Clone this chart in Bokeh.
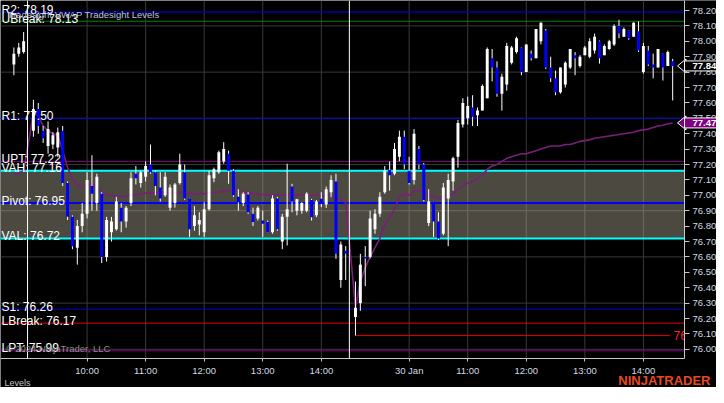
from bokeh.plotting import figure
from bokeh.models import Range1d, FixedTicker, NumeralTickFormatter, Label, ColumnDataSource
from bokeh.embed import file_html
from bokeh.resources import INLINE
from bokeh.core.properties import value

# ---------------- data (5-minute bars, equidistant index) ----------------
bar_idx = [-3, -2, -1] + list(range(1, 66)) + list(range(67, 133))

bar_open = [
    77.85, 77.92, 77.93,
    77.42, 77.56, 77.42, 77.32, 77.33, 77.31, 77.42, 77.08, 76.86, 76.66,
    76.80, 76.88, 77.06, 76.95, 77.01, 76.60, 76.76, 76.78, 76.92, 76.83,
    76.95, 77.14, 77.08, 77.12, 77.20, 77.15, 77.05, 77.00, 76.92, 76.95,
    77.08, 77.15, 76.98, 76.80, 76.81, 76.76, 76.91, 77.11, 77.15, 77.22,
    77.27, 77.16, 76.99, 76.95, 77.005, 76.88, 76.85, 76.836, 76.826, 76.76,
    76.98, 76.70, 76.86, 77.057, 76.90, 76.90, 76.90, 76.97, 76.87, 76.977,
    76.94, 77.02, 77.09, 76.45, 76.64,
    76.21, 76.30, 76.60, 76.60, 76.78, 76.88, 77.02, 77.165, 77.14, 77.25,
    77.38, 77.16, 77.10, 77.30, 77.20, 76.82, 76.96, 76.83, 76.75, 76.98,
    77.09, 77.25, 77.46, 77.50, 77.57, 77.52, 77.55, 77.63, 77.89, 77.83,
    77.66, 77.72, 77.86, 77.93, 77.96, 77.80, 77.92, 77.89, 78.00, 78.07,
    77.83, 77.76, 77.67, 77.72, 77.83, 77.91, 77.84, 77.91, 77.90, 77.94,
    78.00, 77.91, 77.95, 77.98, 78.10, 78.03, 78.07, 78.03, 78.066, 77.80,
    77.94, 77.85, 77.83, 77.92, 77.84, 77.87,
]
bar_high = [
    77.96, 77.99, 78.06,
    77.62, 77.60, 77.45, 77.48, 77.41, 77.44, 77.45, 77.09, 76.87, 76.84,
    76.95, 77.15, 77.26, 77.14, 77.02, 76.86, 76.86, 76.99, 76.95, 76.93,
    77.15, 77.19, 77.16, 77.22, 77.33, 77.16, 77.15, 77.15, 77.07, 77.08,
    77.27, 77.20, 76.98, 76.93, 76.89, 76.955, 77.16, 77.18, 77.29, 77.345,
    77.29, 77.17, 77.04, 77.02, 77.02, 76.92, 76.93, 76.90, 76.836, 77.00,
    76.99, 76.88, 77.205, 77.075, 76.977, 76.955, 77.02, 76.977, 76.97, 77.02,
    77.057, 77.13, 77.14, 76.70, 76.67,
    76.44, 76.62, 76.67, 76.90, 76.91, 77.02, 77.19, 77.22, 77.34, 77.42,
    77.42, 77.25, 77.43, 77.32, 77.21, 77.04, 76.96, 76.89, 77.08, 77.14,
    77.25, 77.49, 77.63, 77.64, 77.65, 77.57, 77.72, 77.96, 77.95, 77.87,
    77.79, 77.99, 77.97, 78.03, 77.96, 77.98, 77.94, 78.08, 78.124, 78.08,
    77.90, 77.81, 77.83, 77.87, 77.95, 77.93, 77.91, 77.97, 78.02, 78.05,
    78.005, 77.98, 78.01, 78.11, 78.14, 78.09, 78.07, 78.124, 78.13, 77.99,
    77.97, 77.92, 77.95, 77.92, 77.94, 77.886,
]
bar_low = [
    77.78, 77.90, 77.92,
    77.38, 77.40, 77.34, 77.27, 77.30, 77.25, 77.06, 76.84, 76.65, 76.55,
    76.76, 76.85, 76.90, 76.90, 76.56, 76.57, 76.70, 76.77, 76.76, 76.79,
    76.93, 77.07, 77.05, 77.09, 77.14, 77.00, 76.96, 76.99, 76.90, 76.92,
    77.07, 76.97, 76.73, 76.77, 76.74, 76.73, 76.90, 77.085, 77.14, 77.205,
    77.075, 76.99, 76.90, 76.93, 76.88, 76.80, 76.836, 76.73, 76.76, 76.75,
    76.77, 76.65, 76.674, 76.89, 76.87, 76.88, 76.89, 76.836, 76.858, 76.923,
    76.918, 76.988, 76.588, 76.40, 76.45,
    76.09, 76.25, 76.41, 76.59, 76.75, 76.86, 77.01, 77.03, 77.13, 77.22,
    77.17, 77.07, 77.07, 77.17, 76.96, 76.80, 76.73, 76.71, 76.74, 76.67,
    77.03, 77.18, 77.44, 77.46, 77.45, 77.45, 77.55, 77.63, 77.74, 77.64,
    77.55, 77.68, 77.85, 77.92, 77.78, 77.80, 77.875, 77.89, 77.98, 77.82,
    77.735, 77.65, 77.66, 77.70, 77.82, 77.78, 77.83, 77.91, 77.89, 77.92,
    77.855, 77.91, 77.945, 77.97, 78.02, 78.03, 78.01, 78.03, 77.93, 77.79,
    77.84, 77.76, 77.83, 77.745, 77.84, 77.616,
]
bar_close = [
    77.92, 77.96, 78.00,
    77.56, 77.45, 77.37, 77.43, 77.39, 77.41, 77.08, 76.86, 76.67, 76.80,
    76.88, 77.10, 77.01, 77.12, 76.60, 76.84, 76.83, 76.96, 76.83, 76.92,
    77.11, 77.11, 77.15, 77.19, 77.15, 77.06, 76.98, 77.12, 77.05, 77.07,
    77.20, 76.98, 76.78, 76.87, 76.84, 76.91, 77.13, 77.17, 77.28, 77.30,
    77.16, 77.00, 76.955, 77.01, 76.89, 76.826, 76.92, 76.815, 76.76, 76.98,
    76.78, 76.86, 76.91, 76.96, 76.975, 76.95, 77.01, 76.858, 76.96, 76.944,
    77.04, 77.10, 76.62, 76.68, 76.62,
    76.27, 76.55, 76.59, 76.85, 76.88, 76.99, 77.16, 77.13, 77.30, 77.38,
    77.20, 77.08, 77.40, 77.20, 76.97, 76.96, 76.83, 76.72, 77.05, 77.10,
    77.24, 77.47, 77.60, 77.58, 77.51, 77.55, 77.71, 77.95, 77.83, 77.66,
    77.77, 77.97, 77.96, 78.02, 77.80, 77.98, 77.89, 78.08, 78.12, 77.83,
    77.76, 77.67, 77.83, 77.86, 77.95, 77.89, 77.90, 77.96, 78.00, 78.03,
    77.89, 77.97, 78.00, 78.10, 78.05, 78.08, 78.02, 78.12, 77.94, 77.97,
    77.85, 77.83, 77.95, 77.83, 77.93, 77.84,
]
vwap = [
    77.13, 77.145, 77.16,
    77.53, 77.52, 77.45, 77.42, 77.40, 77.39, 77.29, 77.18, 77.11, 77.06,
    77.06, 77.07, 77.075, 77.06, 77.02, 77.005, 77.00, 76.995, 76.99, 76.995,
    77.00, 77.003, 77.01, 77.014, 77.016, 77.016, 77.014, 77.016, 77.016, 77.018,
    77.02, 77.02, 77.014, 77.01, 77.01, 77.01, 77.014, 77.018, 77.022, 77.027,
    77.031, 77.031, 77.025, 77.02, 77.016, 77.012, 77.007, 77.005, 77.003, 77.003,
    77.002, 77.00, 77.00, 77.00, 77.00, 77.00, 77.00, 77.00, 77.00, 77.00,
    76.999, 76.997, 76.983, 76.966, 76.955,
    76.27, 76.44, 76.53, 76.60, 76.66, 76.72, 76.81, 76.86, 76.91, 76.99,
    77.01, 77.00, 77.03, 77.03, 77.02, 77.00, 76.99, 76.98, 76.98, 76.99,
    77.01, 77.04, 77.06, 77.08, 77.09, 77.11, 77.13, 77.17, 77.19, 77.20,
    77.22, 77.24, 77.25, 77.26, 77.27, 77.27, 77.28, 77.29, 77.30, 77.31,
    77.32, 77.32, 77.32, 77.33, 77.33, 77.34, 77.35, 77.355, 77.36, 77.37,
    77.375, 77.38, 77.385, 77.39, 77.395, 77.40, 77.405, 77.41, 77.42, 77.425,
    77.43, 77.44, 77.45, 77.455, 77.465, 77.47,
]

time_ticks = [12, 24, 36, 48, 60, 78, 90, 102, 114, 126]
time_labels = ["10:00", "11:00", "12:00", "13:00", "14:00",
               "30 Jan", "11:00", "12:00", "13:00", "14:00"]
price_ticks = [76.00, 76.10, 76.20, 76.30, 76.40, 76.50, 76.60, 76.70, 76.80,
               76.90, 77.00, 77.10, 77.20, 77.30, 77.40, 77.50, 77.60, 77.70,
               77.80, 77.90, 78.00, 78.10, 78.20]
grid_prices = [76.00, 76.30, 76.60, 76.90, 77.20, 77.50, 77.80, 78.10]
session_breaks = [-0.2, 65.75]

level_names = ["R2", "UBreak", "R1", "UPT", "VAH", "Pivot", "VAL", "S1", "LBreak", "LPT"]
level_values = [78.19, 78.13, 77.50, 77.22, 77.16, 76.95, 76.72, 76.26, 76.17, 75.99]
level_colors = ["#0000ff", "#008000", "#0000d2", "#800080", "#00ffff",
                "#0000ff", "#00ffff", "#0000d2", "#e00000", "#800080"]
level_widths = [1, 1, 1, 1, 2, 2, 2, 1, 1, 1]
value_area = (76.72, 77.16)

FONT = "Liberation Sans"
W, H = 716, 387
# visible window: index / price at the canvas edges, and where the axes sit
X_LEFT, X_AXIS, X_RIGHT = -5.74, 134.43, 140.98
Y_BOTTOM, Y_AXIS, Y_TOP = 75.752, 75.94, 78.265

p = figure(width=W, height=H, x_range=Range1d(X_LEFT, X_RIGHT),
           y_range=Range1d(Y_BOTTOM, Y_TOP), y_axis_location="right",
           toolbar_location=None, output_backend="svg", title=None,
           min_border=0, min_border_left=0, min_border_right=0,
           min_border_top=0, min_border_bottom=0,
           background_fill_color="black", border_fill_color="black",
           outline_line_color=None)
p.xgrid.grid_line_color = None
p.ygrid.grid_line_color = None

# axes drawn inside the canvas at fixed locations
p.xaxis.fixed_location = Y_AXIS
p.yaxis.fixed_location = X_AXIS
p.xaxis.bounds = (X_LEFT, X_AXIS)
p.yaxis.bounds = (Y_AXIS, Y_TOP)
p.xaxis.ticker = FixedTicker(ticks=time_ticks)
p.xaxis.major_label_overrides = {t: l for t, l in zip(time_ticks, time_labels)}
p.yaxis.ticker = FixedTicker(ticks=price_ticks)
p.yaxis.formatter = NumeralTickFormatter(format="0.00")
for ax in (p.xaxis[0], p.yaxis[0]):
    ax.axis_line_color = "#c8c8c8"
    ax.major_tick_line_color = "#c8c8c8"
    ax.minor_tick_line_color = None
    ax.major_tick_in = 0
    ax.major_label_text_color = "#d4dae4"
    ax.major_label_text_font = FONT
    ax.major_label_text_font_size = "9.5px"
p.xaxis.major_tick_out = 3
p.xaxis.major_label_standoff = 3
p.yaxis.major_tick_out = 5
p.yaxis.major_label_standoff = 3

# grid lines (plot area only)
p.segment(x0=time_ticks, x1=time_ticks, y0=[Y_AXIS] * len(time_ticks),
          y1=[Y_TOP] * len(time_ticks), line_color="#3a3a3a", line_width=1)
p.segment(x0=[X_LEFT] * len(grid_prices), x1=[X_AXIS] * len(grid_prices),
          y0=grid_prices, y1=grid_prices, line_color="#3a3a3a", line_width=1)

# value area shading (semi transparent, grid shows through lighter)
p.quad(left=[X_LEFT], right=[X_AXIS], bottom=[value_area[0]], top=[value_area[1]],
       fill_color="#bdb7a2", fill_alpha=0.4, line_color=None)

# level lines
p.segment(x0=[X_LEFT] * len(level_values), x1=[X_AXIS] * len(level_values),
          y0=level_values, y1=level_values, line_color=level_colors,
          line_width=level_widths)

# session low line (from the low bar of the last session)
s2 = [i for i, b in enumerate(bar_idx) if b > session_breaks[1]]
low_i = min(s2, key=lambda i: bar_low[i])
lod_value = bar_low[low_i]
p.segment(x0=[bar_idx[low_i]], x1=[X_AXIS - 3.0], y0=[lod_value], y1=[lod_value],
          line_color="#e00000", line_width=1)
p.text(x=[X_AXIS - 2.25], y=[lod_value], text=["%.2f" % lod_value],
       text_color="#ff2222", text_font=value(FONT), text_font_size="12px",
       text_baseline="middle")

# VWAP
p.line(bar_idx, vwap, line_color="#7b1e7b", line_width=1.6)

# candles
body_color = ["#ffffff" if c >= o else "#0000ff" for o, c in zip(bar_open, bar_close)]
src = ColumnDataSource(dict(x=bar_idx, o=bar_open, h=bar_high, l=bar_low, c=bar_close,
                            top=[max(o, c) for o, c in zip(bar_open, bar_close)],
                            bot=[min(o, c) for o, c in zip(bar_open, bar_close)],
                            col=body_color))
p.segment(x0="x", x1="x", y0="l", y1="h", source=src, line_color="#ffffff", line_width=1)
p.vbar(x="x", width=0.6, top="top", bottom="bot", source=src,
       fill_color="col", line_color=None)

# session breaks
p.segment(x0=session_breaks, x1=session_breaks, y0=[Y_AXIS] * len(session_breaks),
          y1=[Y_TOP] * len(session_breaks), line_color="#ffffff", line_width=1)

# mask: the plot area ends at the price axis
p.quad(left=[X_AXIS], right=[X_RIGHT], bottom=[Y_BOTTOM], top=[Y_TOP],
       fill_color="black", line_color=None)

# price markers on the right axis
last_price = bar_close[-1]
last_vwap = vwap[-1]
for price, fill in ((last_price, "#000000"), (last_vwap, "#800080")):
    dy = 7.0 / 154.0
    p.patch([X_AXIS - 7 / 4.88, X_AXIS + 0.3, X_AXIS + 0.3],
            [price, price + dy, price - dy],
            fill_color=fill, line_color="#ffffff", line_width=1)
    p.add_layout(Label(x=X_AXIS, y=price, x_units="data", y_units="data",
                       text="%.2f" % price, text_color="#ffffff", text_font=FONT,
                       text_font_size="9.5px", text_font_style="bold",
                       text_baseline="middle", text_align="left",
                       background_fill_color=fill, border_line_color="#ffffff",
                       padding=dict(left=8, right=6, top=2, bottom=2)))

# level labels
for n, v in zip(level_names, level_values):
    p.add_layout(Label(x=1, x_units="screen", y=v, y_units="data", y_offset=2.5,
                       text="%s: %.2f" % (n, v), text_color="#ffffff",
                       text_font=FONT, text_font_size="12px",
                       text_baseline="alphabetic"))

p.add_layout(Label(x=7, y=H - 14, x_units="screen", y_units="screen",
                   text="Tradesight VWAP Tradesight Levels", text_color="#bcc0dc",
                   text_font=FONT, text_font_size="9.5px", text_baseline="alphabetic"))
p.add_layout(Label(x=5, y=H - 348, x_units="screen", y_units="screen",
                   text="\u00a9 2024 NinjaTrader, LLC", text_color="#8c8c8c",
                   text_font=FONT, text_font_size="9.5px", text_baseline="alphabetic"))
p.add_layout(Label(x=4, y=5, x_units="screen", y_units="screen",
                   text="Levels", text_color="#c4c4c4",
                   text_font=FONT, text_font_size="9px", text_baseline="alphabetic"))
p.add_layout(Label(x=W - 6, y=7, x_units="screen", y_units="screen",
                   text="NINJATRADER", text_color="#e8491e", text_align="right",
                   text_font=FONT, text_font_size="13px", text_font_style="bold",
                   text_baseline="alphabetic"))

open("out.html", "w").write(file_html(p, INLINE))
